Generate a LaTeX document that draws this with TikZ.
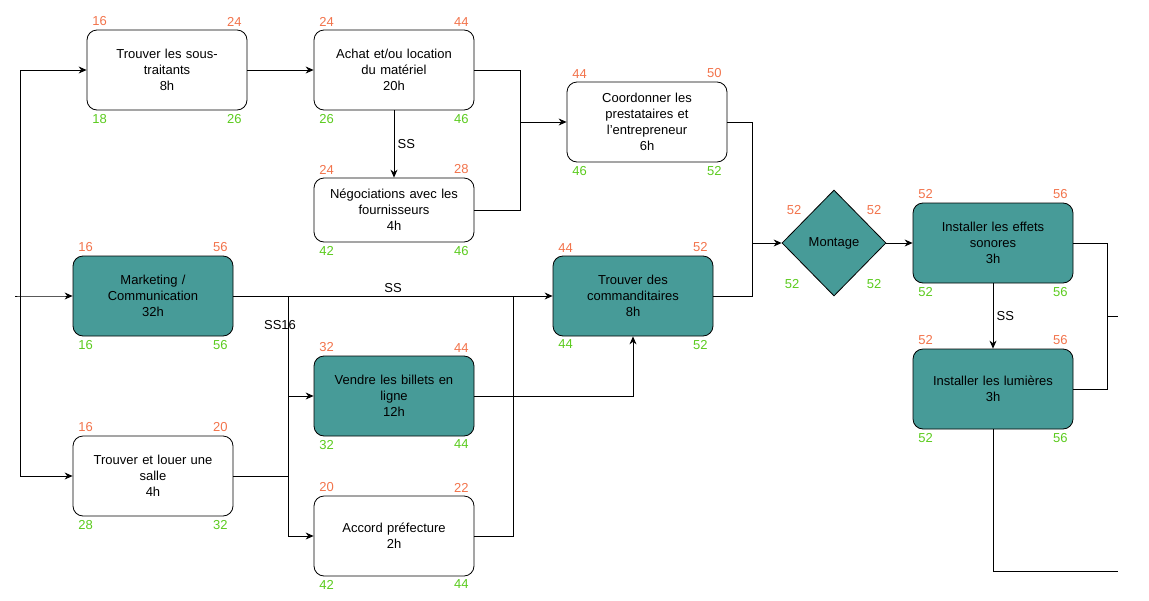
\documentclass[tikz,border=0pt]{standalone}
\usepackage{fontspec}
\setmainfont{Liberation Sans}
\usetikzlibrary{shapes.geometric, arrows.meta}
\definecolor{teal1}{HTML}{479B98}
\definecolor{early}{HTML}{F2734B}
\definecolor{late}{HTML}{5BCB1E}

\begin{document}
\begin{tikzpicture}[
    x=1pt, y=-1pt,
    font=\fontsize{13}{16}\selectfont,
    task/.style={rectangle, rounded corners=10pt, draw, thick, minimum width=160pt,
        minimum height=80pt, align=center, text width=150pt},
    crit/.style={task, fill=teal1},
    milestone/.style={diamond, draw, thick, fill=teal1, minimum width=104pt,
        minimum height=106pt, inner sep=0pt},
    es/.style={text=early, font=\fontsize{13}{16}\selectfont},
    ls/.style={text=late, font=\fontsize{13}{16}\selectfont},
    link/.style={thick, -{Stealth[length=8pt,width=7pt]}}
]
\useasboundingbox (0,0) rectangle (1149,600);

% Tasks
\node[task] (sous) at (167,70) {Trouver les sous-\\traitants\\8h};
\node[task] (achat) at (394,70) {Achat et/ou location\\du matériel\\20h};
\node[task, minimum height=64pt] (nego) at (394,210) {Négociations avec les\\fournisseurs\\4h};
\node[task] (coord) at (647,122) {Coordonner les\\prestataires et\\l'entrepreneur\\6h};
\node[crit] (mark) at (153,296) {Marketing /\\Communication\\32h};
\node[task] (salle) at (153,476) {Trouver et louer une\\salle\\4h};
\node[crit] (billets) at (394,396) {Vendre les billets en\\ligne\\12h};
\node[task] (pref) at (394,536) {Accord préfecture\\2h};
\node[crit] (comm) at (633,296) {Trouver des\\commanditaires\\8h};
\node[milestone] (mont) at (834,243) {Montage};
\node[crit] (sono) at (993,243) {Installer les effets\\sonores\\3h};
\node[crit] (lum) at (993,389) {Installer les lumières\\3h};

% Dates
\foreach \n/\a/\b/\c/\d in {sous/16/24/18/26, achat/24/44/26/46, nego/24/28/42/46,
    coord/44/50/46/52, mark/16/56/16/56, salle/16/20/28/32, billets/32/44/32/44,
    pref/20/22/42/44, comm/44/52/44/52, sono/52/56/52/56, lum/52/56/52/56} {
  \node[es, anchor=south] (\n-es) at ([xshift=13pt]\n.north west) {\a};
  \node[es, anchor=south] (\n-ef) at ([xshift=-13pt]\n.north east) {\b};
  \node[ls, anchor=north] (\n-ls) at ([xshift=13pt]\n.south west) {\c};
  \node[ls, anchor=north] (\n-lf) at ([xshift=-13pt]\n.south east) {\d};
}
\node[es] (mont-es) at (794,210) {52};
\node[es] (mont-ef) at (874,210) {52};
\node[ls] (mont-ls) at (792,284) {52};
\node[ls] (mont-lf) at (874,284) {52};

% Free ends
\coordinate (start) at (20,70);
\coordinate (in) at (15,296);
\coordinate (out1) at (1118,316);
\coordinate (out2) at (1118,571);

% Connectors
\draw[link] (start) -- (sous);
\draw[link] (start) |- (salle);
\draw[link] (in) to[out=0, in=180] (mark);
\draw[link] (sous) -- (achat);
\draw[link] (achat) -- node[right] {SS} (nego);
\draw[link] (achat.east) -| (520,122) -- (coord.west);
\draw[thick] (nego.east) -| (520,122);
\draw[link] (mark.east) -- node[above, pos=0.5] {SS} (comm.west);
\draw[link] (288,296) |- (pref.west);
\draw[link] (288,396) -- (billets.west);
\node (ss16) at (280,325) {SS16};
\draw[thick] (salle.east) -- (288,476);
\draw[thick] (pref.east) -| (513,296);
\draw[link] (billets.east) -| (comm.south);
\draw[link] (coord.east) -| (752,243) -- (mont.west);
\draw[thick] (comm.east) -| (752,243);
\draw[link] (mont) -- (sono);
\draw[link] (sono) -- node[right] {SS} (lum);
\draw[thick] (sono.east) -| (1107,316) |- (lum.east);
\draw[thick] (1107,316) -- (out1);
\draw[thick] (lum.south) |- (out2);

\end{tikzpicture}
\end{document}
